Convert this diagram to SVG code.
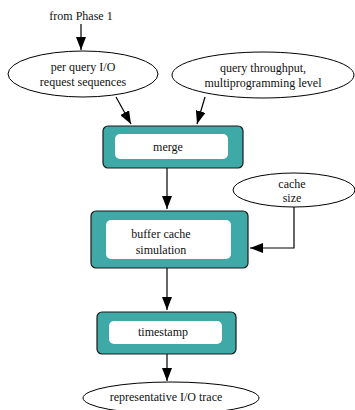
<svg xmlns="http://www.w3.org/2000/svg" width="355" height="410" viewBox="0 0 355 410">
  <style>
    text { font-family: "Liberation Serif", "Times New Roman", serif; font-size: 12px; fill: #111; text-anchor: middle; }
    .ell { fill: #fff; stroke: #000; stroke-width: 1; }
    .outer { fill: #3fa9a8; stroke: #1a1a1a; stroke-width: 1.2; }
    .inner { fill: #fff; stroke: none; }
    .edge { fill: none; stroke: #000; stroke-width: 1.2; }
  </style>
  <defs>
    <marker id="arrow" viewBox="0 0 13 10" refX="13" refY="5" markerWidth="13" markerHeight="10" markerUnits="userSpaceOnUse" orient="auto">
      <path d="M0,0 L13,5 L0,10 Z" fill="#000"/>
    </marker>
  </defs>

  <g id="connectors">
    <line class="edge" x1="81" y1="24" x2="81" y2="50" marker-end="url(#arrow)"/>
    <line class="edge" x1="116" y1="97" x2="131" y2="124" marker-end="url(#arrow)"/>
    <line class="edge" x1="205" y1="97" x2="197" y2="124" marker-end="url(#arrow)"/>
    <line class="edge" x1="167" y1="168" x2="167" y2="209" marker-end="url(#arrow)"/>
    <polyline class="edge" points="294,207 294,248 250,248" marker-end="url(#arrow)"/>
    <line class="edge" x1="167" y1="268" x2="167" y2="310" marker-end="url(#arrow)"/>
    <line class="edge" x1="167" y1="354" x2="167" y2="381" marker-end="url(#arrow)"/>
  </g>

  <g id="from-phase-1">
    <text x="81" y="20">from Phase 1</text>
  </g>

  <g id="request-sequences">
    <ellipse class="ell" cx="83" cy="74" rx="75" ry="23"/>
    <text x="83" y="71">per query I/O</text>
    <text x="83" y="86">request sequences</text>
  </g>

  <g id="throughput">
    <ellipse class="ell" cx="263" cy="75" rx="91" ry="23"/>
    <text x="263" y="72">query throughput,</text>
    <text x="263" y="87">multiprogramming level</text>
  </g>

  <g id="merge">
    <rect class="outer" x="103" y="126" width="140" height="42" rx="5"/>
    <rect class="inner" x="115" y="134" width="113" height="25" rx="5"/>
    <text x="168" y="151">merge</text>
  </g>

  <g id="cache-size">
    <ellipse class="ell" cx="294" cy="190" rx="61" ry="17"/>
    <text x="292" y="188">cache</text>
    <text x="292" y="202">size</text>
  </g>

  <g id="buffer-cache">
    <rect class="outer" x="91" y="211" width="157" height="57" rx="5"/>
    <rect class="inner" x="106" y="220" width="125" height="39" rx="5"/>
    <text x="161" y="238">buffer cache</text>
    <text x="161" y="254">simulation</text>
  </g>

  <g id="timestamp">
    <rect class="outer" x="97" y="312" width="139" height="42" rx="5"/>
    <rect class="inner" x="109" y="321" width="113" height="23" rx="5"/>
    <text x="163" y="336">timestamp</text>
  </g>

  <g id="io-trace">
    <ellipse class="ell" cx="171" cy="398" rx="88" ry="16"/>
    <text x="166" y="401">representative I/O trace</text>
  </g>
</svg>
